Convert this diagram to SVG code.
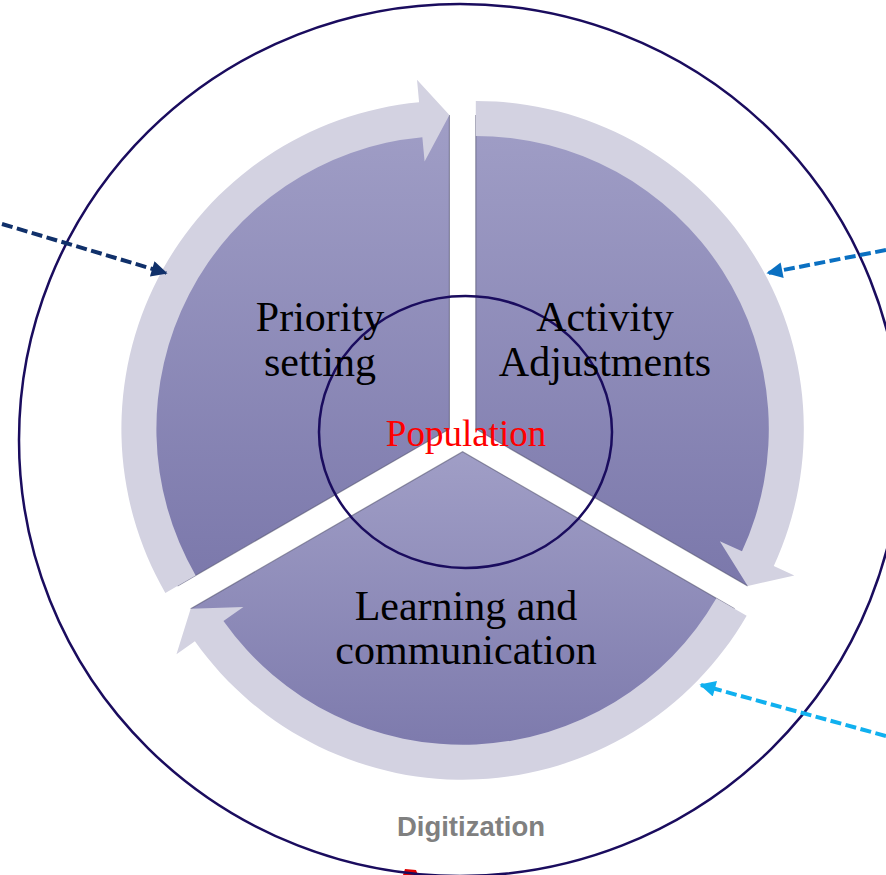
<svg xmlns="http://www.w3.org/2000/svg" width="886" height="875" viewBox="0 0 886 875">
  <defs>
    <linearGradient id="segGrad" x1="0" y1="0" x2="0" y2="1">
      <stop offset="0" stop-color="#a09ec6"/>
      <stop offset="1" stop-color="#7b78ab"/>
    </linearGradient>
    <path id="arrowShape" d="M -284.06 164 A 328 328 0 0 1 -30.30 -326.60 L -32.39 -349.10 L 0 -314 L -24.81 -267.45 L -27.06 -291.75 A 293 293 0 0 0 -253.75 146.5 Z"/>
    <marker id="mNavy" viewBox="0 0 10 10" refX="9" refY="5" markerWidth="4.5" markerHeight="4" orient="auto" markerUnits="strokeWidth">
      <path d="M0 0 L10 5 L0 10 Z" fill="#10306a"/>
    </marker>
    <marker id="mBlue" viewBox="0 0 10 10" refX="9" refY="5" markerWidth="4.5" markerHeight="4" orient="auto" markerUnits="strokeWidth">
      <path d="M0 0 L10 5 L0 10 Z" fill="#0a70c2"/>
    </marker>
    <marker id="mCyan" viewBox="0 0 10 10" refX="9" refY="5" markerWidth="4.5" markerHeight="4" orient="auto" markerUnits="strokeWidth">
      <path d="M0 0 L10 5 L0 10 Z" fill="#10b0ef"/>
    </marker>
  </defs>
  <style>
    .seg { fill: url(#segGrad); }
    .edge { fill: none; stroke: #4a4a66; stroke-opacity: 0.55; stroke-width: 1.2; }
    .arrow { fill: #d3d2e1; }
    .ring { fill: none; stroke: #1a0c5e; stroke-width: 2.5; }
    .lbl { font-family: "Liberation Serif", "Times New Roman", serif; font-size: 42px; fill: #000; text-anchor: middle; }
    .pop { font-family: "Liberation Serif", "Times New Roman", serif; font-size: 37px; fill: #ff0000; text-anchor: middle; }
    .dig { font-family: "Liberation Sans", Arial, sans-serif; font-size: 27.5px; font-weight: bold; fill: #808080; text-anchor: middle; }
    .dash { fill: none; stroke-width: 4; stroke-dasharray: 11 4.5; }
  </style>
  <rect width="886" height="875" fill="#ffffff"/>

  <path d="M403 875 L405 869 L416 870 L418 875 Z" fill="#e00000"/>
  <g id="outer-circle">
    <ellipse class="ring" cx="460" cy="440" rx="441" ry="436"/>
  </g>

  <g id="segment-priority">
    <path class="seg" d="M 449.4 428.9 L 177.5 585.9 A 314 314 0 0 1 449.4 114.9 Z"/>
    <path class="edge" d="M 177.5 585.9 L 449.4 428.9 L 449.4 114.9"/>
  </g>
  <g id="segment-activity">
    <path class="seg" d="M 475.8 428.9 L 475.8 114.9 A 314 314 0 0 1 747.7 585.9 Z"/>
    <path class="edge" d="M 475.8 114.9 L 475.8 428.9 L 747.7 585.9"/>
  </g>
  <g id="segment-learning">
    <path class="seg" d="M 462.6 451.7 L 734.5 608.7 A 314 314 0 0 1 190.7 608.7 Z"/>
    <path class="edge" d="M 734.5 608.7 L 462.6 451.7 L 190.7 608.7"/>
  </g>

  <g id="cycle-arrows">
    <use href="#arrowShape" class="arrow" transform="translate(449.4 428.9)"/>
    <use href="#arrowShape" class="arrow" transform="translate(475.8 428.9) rotate(120)"/>
    <use href="#arrowShape" class="arrow" transform="translate(462.6 451.7) rotate(240)"/>
  </g>

  <g id="population">
    <ellipse class="ring" cx="465.5" cy="432" rx="146.5" ry="136" stroke-width="2.2"/>
    <text class="pop" x="466" y="446">Population</text>
  </g>

  <g id="label-priority">
    <text class="lbl" x="320" y="331">Priority</text>
    <text class="lbl" x="320" y="376">setting</text>
  </g>
  <g id="label-activity">
    <text class="lbl" x="605" y="331">Activity</text>
    <text class="lbl" x="605" y="376">Adjustments</text>
  </g>
  <g id="label-learning">
    <text class="lbl" x="466" y="620">Learning and</text>
    <text class="lbl" x="466" y="664">communication</text>
  </g>

  <g id="digitization">
    <text class="dig" x="471" y="836">Digitization</text>
  </g>

  <g id="connectors">
    <line class="dash" x1="2" y1="224" x2="166" y2="273" stroke="#10306a" marker-end="url(#mNavy)"/>
    <line class="dash" x1="886" y1="250" x2="768" y2="273" stroke="#0a70c2" marker-end="url(#mBlue)"/>
    <line class="dash" x1="886" y1="736" x2="701" y2="685" stroke="#10b0ef" marker-end="url(#mCyan)"/>
  </g>
</svg>
